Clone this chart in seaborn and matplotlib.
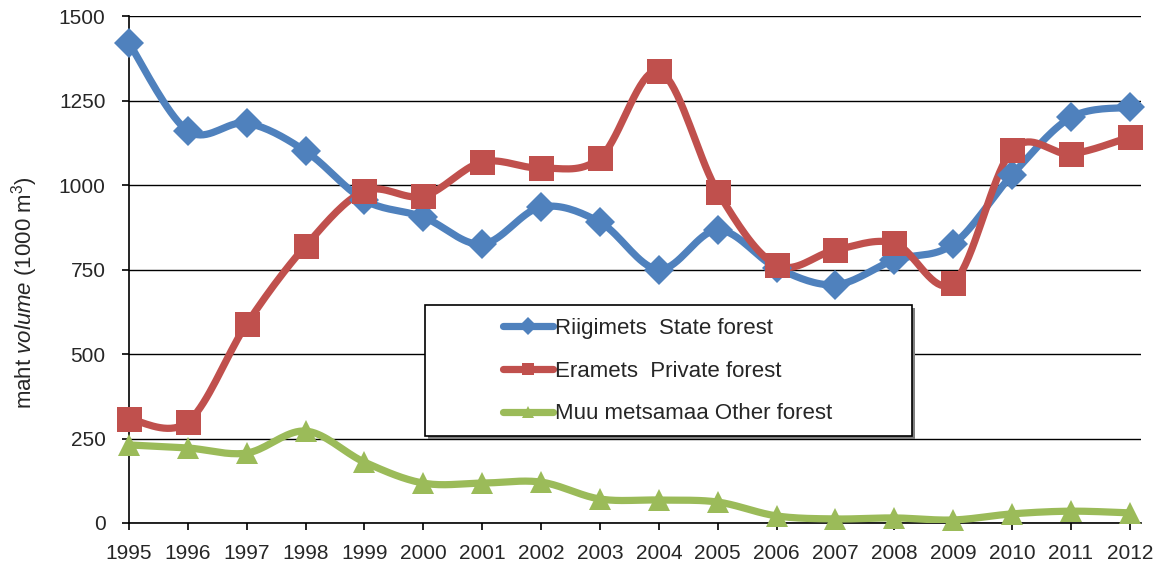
import numpy as np
import pandas as pd
import matplotlib
matplotlib.use("Agg")
import matplotlib.pyplot as plt
import seaborn as sns
from matplotlib.lines import Line2D
from matplotlib.patches import Rectangle

years = list(range(1995, 2013))
state = [1420, 1160, 1183, 1100, 955, 905, 825, 935, 890, 750, 867, 755, 705, 778, 825, 1030, 1200, 1230]
private = [308, 299, 589, 820, 982, 967, 1068, 1050, 1080, 1337, 980, 763, 808, 828, 710, 1103, 1092, 1142]
other = [231, 222, 207, 272, 180, 118, 118, 121, 71, 68, 62, 21, 12, 15, 9, 27, 35, 30]

names = ["Riigimets  State forest", "Eramets  Private forest", "Muu metsamaa Other forest"]
colors = ["#4F81BD", "#C0504D", "#9BBB59"]
markers = ["D", "s", "^"]
msizes = [15, 18, 16]


def smooth(x, y, n=20):
    # Excel-like smoothed line (Catmull-Rom bezier between points)
    x = np.asarray(x, float)
    y = np.asarray(y, float)
    px = np.concatenate([[x[0]], x, [x[-1]]])
    py = np.concatenate([[y[0]], y, [y[-1]]])
    xs, ys = [], []
    t = np.linspace(0, 1, n)
    for i in range(1, len(px) - 2):
        p0 = np.array([px[i], py[i]])
        p3 = np.array([px[i + 1], py[i + 1]])
        c1 = p0 + (np.array([px[i + 1], py[i + 1]]) - np.array([px[i - 1], py[i - 1]])) / 6
        c2 = p3 - (np.array([px[i + 2], py[i + 2]]) - np.array([px[i], py[i]])) / 6
        b = ((1 - t) ** 3)[:, None] * p0 + (3 * (1 - t) ** 2 * t)[:, None] * c1 \
            + (3 * (1 - t) * t ** 2)[:, None] * c2 + (t ** 3)[:, None] * p3
        xs.extend(b[:, 0])
        ys.extend(b[:, 1])
    return xs, ys


sns.set_style("white")
plt.rcParams["font.family"] = ["Liberation Sans", "DejaVu Sans"]
plt.rcParams["mathtext.fontset"] = "custom"
plt.rcParams["mathtext.rm"] = "Liberation Sans"
plt.rcParams["mathtext.it"] = "Liberation Sans:italic"

fig = plt.figure(figsize=(11.68, 5.67), dpi=100)
ax = fig.add_axes([129 / 1168, 1 - 523 / 567, (1141 - 129) / 1168, (523 - 16) / 567])

rows = []
for name, vals in zip(names, [state, private, other]):
    sx, sy = smooth(years, vals)
    rows.append(pd.DataFrame({"x": sx, "y": sy, "series": name}))
curves = pd.concat(rows)
sns.lineplot(data=curves, x="x", y="y", hue="series", palette=colors, sort=False,
             estimator=None, units="series", linewidth=5.2, legend=False, ax=ax,
             solid_capstyle="round", zorder=3)
for vals, c, m, ms in zip([state, private, other], colors, markers, msizes):
    ax.plot(years, vals, linestyle="none", marker=m, markersize=ms, color=c,
            markeredgewidth=0, zorder=4, clip_on=False)

ax.set_xlim(1995, 2012.19)
ax.set_ylim(0, 1500)
ax.set_yticks(np.arange(0, 1501, 250))
ax.set_xticks(years)
ax.set_xticklabels([str(y) for y in years])
ax.grid(axis="y", color="black", linewidth=1)
ax.set_axisbelow(True)
for s in ["top", "right"]:
    ax.spines[s].set_visible(False)
for s in ["left", "bottom"]:
    ax.spines[s].set_color("black")
    ax.spines[s].set_linewidth(1.2)
ax.tick_params(axis="both", which="major", direction="out", length=5, width=1.2,
               color="black", labelsize=15, left=True, bottom=True)
ax.tick_params(axis="x", pad=10)
ax.tick_params(axis="y", pad=12)
ax.set_xlabel("")
ax.set_ylabel(r"maht $\it{volume}$ (1000 m$^3$)", fontsize=16)
ax.yaxis.set_label_coords(-0.088, 0.454)

# legend box with shadow
fig.patches.append(Rectangle((428 / 1168, 1 - 439 / 567), 487 / 1168, 131 / 567,
                             transform=fig.transFigure, facecolor="#808080",
                             edgecolor="none", zorder=5))
fig.patches.append(Rectangle((425 / 1168, 1 - 436 / 567), 487 / 1168, 131 / 567,
                             transform=fig.transFigure, facecolor="white",
                             edgecolor="black", linewidth=1.2, zorder=6))
handles = [Line2D([], [], color=c, marker=m, markersize=9, linewidth=5.2,
                  solid_capstyle="round", markeredgewidth=0)
           for c, m in zip(colors, markers)]
leg = fig.legend(handles, names, loc="upper left", bbox_to_anchor=(494 / 1168, 1 - 309 / 567),
                 frameon=False, fontsize=16, handlelength=2.25, handletextpad=0.1,
                 labelspacing=0.98, borderaxespad=0)
leg.set_zorder(7)

fig.savefig("out.png", dpi=100)
